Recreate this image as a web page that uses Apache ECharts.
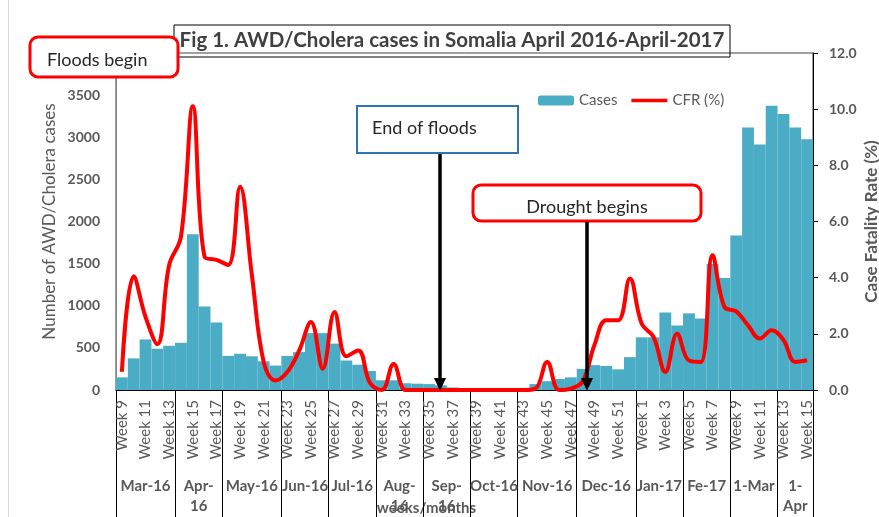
<!DOCTYPE html>
<html><head><meta charset="utf-8">
<script src="https://cdn.jsdelivr.net/npm/echarts@6/dist/echarts.min.js"></script>
<style>html,body{margin:0;padding:0;background:#fff}#c{width:879px;height:517px}</style>
</head><body><div id="c"></div>
<script>
const weeks = ["Week 9","Week 10","Week 11","Week 12","Week 13","Week 14","Week 15","Week 16","Week 17","Week 18",
  "Week 19","Week 20","Week 21","Week 22","Week 23","Week 24","Week 25","Week 26","Week 27","Week 28",
  "Week 29","Week 30","Week 31","Week 32","Week 33","Week 34","Week 35","Week 36","Week 37","Week 38",
  "Week 39","Week 40","Week 41","Week 42","Week 43","Week 44","Week 45","Week 46","Week 47","Week 48",
  "Week 49","Week 50","Week 51","Week 52","Week 1","Week 2","Week 3","Week 4","Week 5","Week 6",
  "Week 7","Week 8","Week 9","Week 10","Week 11","Week 12","Week 13","Week 14","Week 15"];
const cases = [150,375,600,490,525,560,1850,990,800,405,
  430,400,340,290,405,450,675,675,550,350,
  300,225,115,115,80,75,70,55,30,20,
  10,10,10,10,15,70,105,130,150,250,
  295,285,245,390,625,625,920,765,910,850,
  1495,1330,1835,3115,2915,3375,3275,3115,2975];
const cfr = [0.65,4.05,2.6,1.63,4.45,5.46,10.1,4.74,4.63,4.45,
  7.24,4.1,1.0,0.34,0.64,1.4,2.42,0.76,2.78,1.2,
  1.41,0.25,0,0.93,0,0,0,0,0,0,
  0,0,0,0,0,0.05,1.0,0,0.05,0.3,
  1.6,2.48,2.48,3.97,2.36,1.89,0.64,2.0,1.05,1.0,
  4.8,2.96,2.8,2.3,1.83,2.13,1.78,1.0,1.06];
const monthLabels = ["Mar-16","Apr-\n16","May-16","Jun-16","Jul-16","Aug-\n16","Sep-\n16","Oct-16","Nov-16","Dec-16","Jan-17","Fe-17","1-Mar","1-\nApr"];
const monthWeeks = [5,4,5,4,4,4,4,4,5,5,4,4,4,3];

// half-week axis used for month group labels and separators
const halfData = new Array(weeks.length * 2 + 1).fill('');
const sepIdx = new Set([0]);
let s0 = 0;
monthWeeks.forEach((n, i) => { const e = s0 + n; halfData[s0 + e] = monthLabels[i]; sepIdx.add(2 * e); s0 = e; });

const FONT = 'Lato';
const GREY = '#595959';
const chart = echarts.init(document.getElementById('c'), null, {renderer: 'canvas'});
chart.setOption({
  animation: false,
  backgroundColor: '#fff',
  title: {
    text: 'Fig 1. AWD/Cholera cases in Somalia April 2016-April-2017',
    left: 452, top: 30, textAlign: 'center', padding: 0,
    textStyle: {fontFamily: FONT, fontWeight: 'bold', fontSize: 20.5, color: '#404040'}
  },
  legend: {
    left: 533, top: 88, itemWidth: 36, itemHeight: 10, itemGap: 14,
    textStyle: {fontFamily: FONT, fontSize: 15, color: GREY},
    data: [{name: 'Cases'}, {name: 'CFR (%)', icon: 'path://M0,0 L40,0 L40,4 L0,4 Z', itemStyle: {color: '#FF0000', borderWidth: 0}}]
  },
  grid: {left: 116, right: 66, top: 53, bottom: 127, show: true, borderColor: '#404040', borderWidth: 1,
    outerBoundsMode: 'none', containLabel: false},
  xAxis: [{
    type: 'category', data: weeks, boundaryGap: true,
    axisLine: {lineStyle: {color: '#000', width: 1}},
    axisTick: {show: false},
    axisLabel: {interval: 1, rotate: 90, margin: 10, fontFamily: FONT, fontSize: 15, color: GREY}
  }, {
    type: 'category', data: halfData, boundaryGap: false, position: 'bottom',
    axisLine: {show: false},
    axisTick: {show: true, interval: (i) => sepIdx.has(i), length: 128, lineStyle: {color: '#000', width: 1}},
    axisLabel: {interval: 0, margin: 86, fontFamily: FONT, fontWeight: 'bold', fontSize: 15, lineHeight: 20, color: GREY},
    name: 'weeks/months', nameLocation: 'middle', nameGap: 111, nameMoveOverlap: false,
    nameTextStyle: {fontFamily: FONT, fontWeight: 'bold', fontSize: 15, color: GREY, padding: [0, 76, 0, 0]}
  }],
  yAxis: [{
    type: 'value', min: 0, max: 4000, interval: 500, position: 'left',
    axisLine: {show: true, lineStyle: {color: '#868686'}},
    axisTick: {show: false}, splitLine: {show: false},
    axisLabel: {margin: 16, fontFamily: FONT, fontWeight: 'bold', fontSize: 14, color: GREY,
      formatter: v => v === 4000 ? '' : String(v)},
    name: 'Number of AWD/Cholera cases', nameLocation: 'middle', nameGap: 58, nameRotate: 90, nameMoveOverlap: false,
    nameTextStyle: {fontFamily: FONT, fontSize: 17, color: GREY}
  }, {
    type: 'value', min: 0, max: 12, interval: 2, position: 'right',
    axisLine: {show: true, lineStyle: {color: '#000'}},
    axisTick: {show: true, inside: false, length: 5, lineStyle: {color: '#000'}},
    splitLine: {show: false},
    axisLabel: {margin: 16, fontFamily: FONT, fontWeight: 'bold', fontSize: 14, color: GREY,
      formatter: v => v.toFixed(1)},
    name: 'Case Fatality Rate (%)', nameLocation: 'middle', nameGap: 50, nameRotate: 90, nameMoveOverlap: false,
    nameTextStyle: {fontFamily: FONT, fontSize: 17, fontWeight: 'bold', color: GREY}
  }],
  series: [{
    name: 'Cases', type: 'bar', data: cases, xAxisIndex: 0, yAxisIndex: 0,
    barCategoryGap: 0, itemStyle: {color: '#4BACC6'}, z: 2
  }, {
    name: 'CFR (%)', type: 'line', data: cfr, xAxisIndex: 0, yAxisIndex: 1,
    smooth: 0.4, symbol: 'none', showSymbol: false,
    lineStyle: {color: '#FF0000', width: 4}, itemStyle: {color: '#FF0000'}, z: 3
  }],
  graphic: [
    {type: 'line', z: 100, shape: {x1: 8.5, y1: 0, x2: 8.5, y2: 517}, style: {stroke: '#d9d9d9', lineWidth: 1}},
    {type: 'rect', z: 100, shape: {x: 174, y: 25, width: 556, height: 32}, style: {fill: 'none', stroke: '#000', lineWidth: 1}},
    {type: 'rect', z: 100, shape: {x: 30, y: 37, width: 148, height: 40, r: 8}, style: {fill: '#fff', stroke: '#FF0000', lineWidth: 3}},
    {type: 'text', z: 101, style: {text: 'Floods begin', x: 47, y: 60, textAlign: 'left', textVerticalAlign: 'middle', fontFamily: FONT, fontSize: 18, fill: '#262626'}},
    {type: 'rect', z: 100, shape: {x: 357, y: 106, width: 161, height: 47}, style: {fill: '#fff', stroke: '#2E75B6', lineWidth: 2}},
    {type: 'text', z: 101, style: {text: 'End of floods', x: 372, y: 128, textAlign: 'left', textVerticalAlign: 'middle', fontFamily: FONT, fontSize: 18, fill: '#262626'}},
    {type: 'rect', z: 100, shape: {x: 473, y: 185, width: 228, height: 36, r: 8}, style: {fill: '#fff', stroke: '#FF0000', lineWidth: 3}},
    {type: 'text', z: 101, style: {text: 'Drought begins', x: 587, y: 207, textAlign: 'center', textVerticalAlign: 'middle', fontFamily: FONT, fontSize: 18, fill: '#262626'}},
    {type: 'line', z: 100, shape: {x1: 440, y1: 154, x2: 440, y2: 380}, style: {stroke: '#000', lineWidth: 3.5}},
    {type: 'polygon', z: 100, shape: {points: [[434, 378], [446, 378], [440, 391]]}, style: {fill: '#000'}},
    {type: 'line', z: 100, shape: {x1: 587, y1: 222, x2: 587, y2: 380}, style: {stroke: '#000', lineWidth: 3.5}},
    {type: 'polygon', z: 100, shape: {points: [[581, 378], [593, 378], [587, 391]]}, style: {fill: '#000'}}
  ]
});
</script></body></html>
